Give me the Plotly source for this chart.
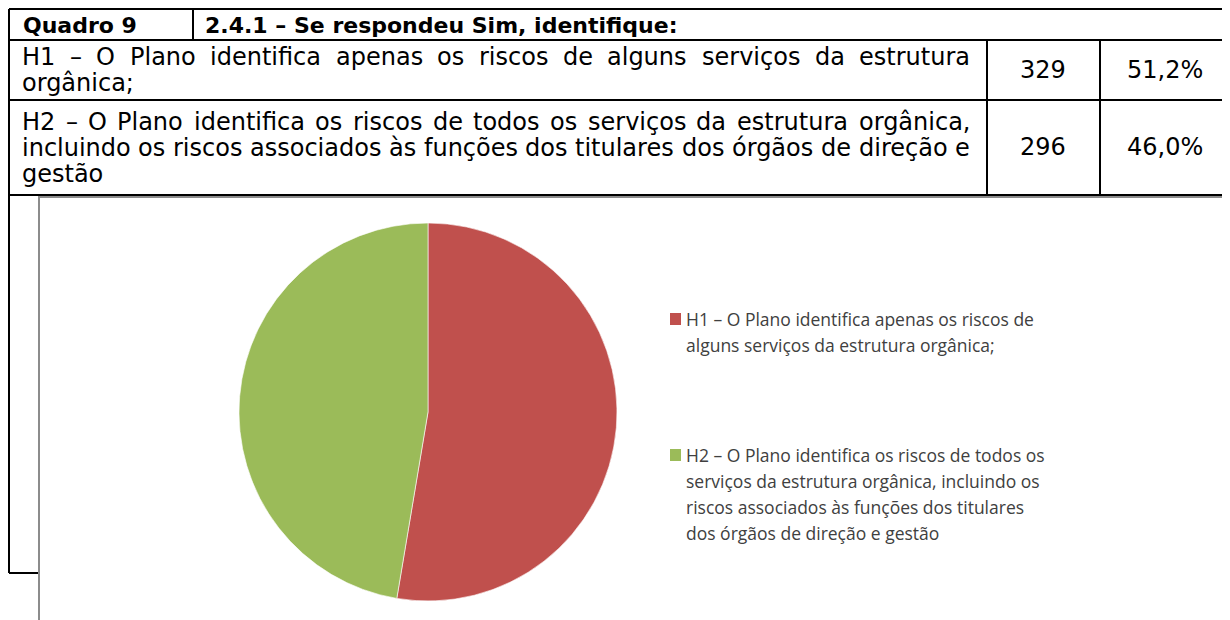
import plotly.graph_objects as go

# ---------------- data ----------------
quadro_label = "Quadro 9"
question = "2.4.1 – Se respondeu Sim, identifique:"
categories = [
    "H1 – O Plano identifica apenas os riscos de alguns serviços da estrutura orgânica;",
    "H2 – O Plano identifica os riscos de todos os serviços da estrutura orgânica, incluindo os riscos associados às funções dos titulares dos órgãos de direção e gestão",
]
counts = [329, 296]
percents = ["51,2%", "46,0%"]
colors = ["#C0504D", "#9BBB59"]

# table text lines (as wrapped in the document)
table_lines = [
    ["H1 – O Plano identifica apenas os riscos de alguns serviços da estrutura", "orgânica;"],
    ["H2 – O Plano identifica os riscos de todos os serviços da estrutura orgânica,",
     "incluindo os riscos associados às funções dos titulares dos órgãos de direção e",
     "gestão"],
]
legend_lines = [
    ["H1 – O Plano identifica apenas os riscos de", "alguns serviços da estrutura orgânica;"],
    ["H2 – O Plano identifica os riscos de todos os",
     "serviços da estrutura orgânica, incluindo os",
     "riscos associados às funções dos titulares",
     "dos órgãos de direção e gestão"],
]

# the page body has an 8px margin: work in window pixels and convert
OFF = 8
W, H = 1230 - OFF, 620 - OFF


def px(x):
    return (x - OFF) / W


def py(y):
    return 1 - (y - OFF) / H


# DejaVu Sans advance widths (per 1000 em), used to justify table lines
AW = {' ': 318, 'a': 613, 'b': 635, 'c': 550, 'd': 635, 'e': 615, 'f': 352, 'g': 635,
      'h': 634, 'i': 278, 'j': 278, 'k': 579, 'l': 278, 'm': 974, 'n': 634, 'o': 612,
      'p': 635, 'q': 635, 'r': 411, 's': 521, 't': 392, 'u': 634, 'v': 592, 'w': 818,
      'x': 592, 'y': 592, 'z': 525, 'H': 752, 'O': 787, 'P': 603, '–': 500, 'ç': 550,
      'ã': 613, 'â': 613, 'à': 613, 'õ': 612, 'ó': 612, ';': 337, ',': 318, '.': 318,
      ':': 337, '1': 636, '2': 636}


def tw(s, size):
    return sum(AW.get(c, 600) for c in s) * size / 1000.0


fig = go.Figure()

# pie chart
cx, cy, r = 428, 412, 189
fig.add_trace(go.Pie(
    labels=["H1", "H2"],
    values=counts,
    marker=dict(colors=colors, line=dict(color="white", width=0.6)),
    sort=False,
    direction="clockwise",
    rotation=0,
    textinfo="none",
    hovertext=categories,
    hoverinfo="text+value+percent",
    showlegend=False,
    domain=dict(x=[px(cx - r), px(cx + r)], y=[py(cy + r), py(cy - r)]),
))

shapes = []
BLK = dict(color="black", width=2)


def hline(x0, x1, y):
    shapes.append(dict(type="line", xref="paper", yref="paper",
                       x0=px(x0), x1=px(x1), y0=py(y), y1=py(y), line=BLK, layer="below"))


def vline(x, y0, y1):
    shapes.append(dict(type="line", xref="paper", yref="paper",
                       x0=px(x), x1=px(x), y0=py(y0), y1=py(y1), line=BLK, layer="below"))


# table grid
L, R, T = 9, 1229, 9
rows = [T, 40, 100, 195]
for yy in rows:
    hline(L, R, yy)
vline(L, T, 573)
vline(R, T, 195)
vline(193, T, 40)
vline(987, 40, 195)
vline(1100, 40, 195)
hline(L, 40, 573)

# chart box
shapes.append(dict(type="rect", xref="paper", yref="paper",
                   x0=px(39), x1=px(1229), y0=py(660), y1=py(197),
                   fillcolor="white", line=dict(color="#8c8c8c", width=2), layer="below"))

annotations = []
TFONT = "DejaVu Sans"


def txt(x, y, s, size=24, bold=False, anchor="left", color="black", family=TFONT):
    annotations.append(dict(
        x=px(x), y=py(y), xref="paper", yref="paper", showarrow=False,
        text=("<b>%s</b>" % s) if bold else s, xanchor=anchor, yanchor="middle",
        borderpad=0, borderwidth=0,
        font=dict(family=family, size=size, color=color)))


txt(23, 25, quadro_label, size=22, bold=True)
txt(205, 25, question, size=22, bold=True)


def justified(line, x0, x1, y, size):
    words = line.split(" ")
    total = sum(tw(w, size) for w in words)
    gap = (x1 - x0 - total) / (len(words) - 1)
    x = x0
    for w in words:
        wd = tw(w, size)
        txt(x + wd / 2, y, w, size=size, anchor="center")
        x += wd + gap


FS = 24
row_line_y = [[57, 83], [122, 148, 174]]
for lines, ys in zip(table_lines, row_line_y):
    for i, (ln, yy) in enumerate(zip(lines, ys)):
        if i < len(lines) - 1:
            justified(ln, 22, 970, yy, FS)
        else:
            txt(22, yy, ln, size=FS)

row_mid = [70, 147]
for c, p, yy in zip(counts, percents, row_mid):
    txt(1043, yy, str(c), size=FS, anchor="center")
    txt(1165, yy, p, size=FS, anchor="center")

# legend
leg_y = [[319, 345], [455, 481, 507, 533]]
LFONT = "Open Sans"
for col, lines, ys in zip(colors, legend_lines, leg_y):
    shapes.append(dict(type="rect", xref="paper", yref="paper",
                       x0=px(670), x1=px(681), y0=py(ys[0] + 6), y1=py(ys[0] - 6),
                       fillcolor=col, line=dict(width=0)))
    for ln, yy in zip(lines, ys):
        txt(686, yy, ln, size=17.5, color="#404040", family=LFONT)

fig.update_layout(
    width=W, height=H,
    margin=dict(l=0, r=0, t=0, b=0),
    paper_bgcolor="white", plot_bgcolor="white",
    shapes=shapes, annotations=annotations,
)

fig.write_html("out.html")
